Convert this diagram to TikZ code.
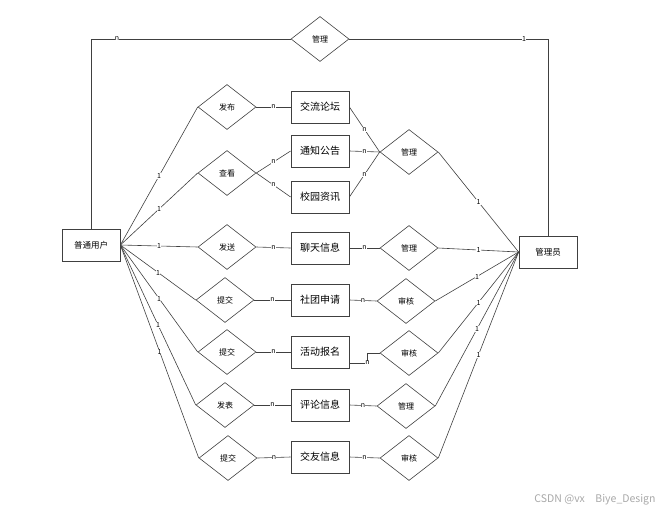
\documentclass[tikz,border=0pt]{standalone}
\usepackage{fontspec}
\newfontfamily\cjk{Noto Sans CJK SC}
\usepackage{tikz}
\usetikzlibrary{
  positioning,
  shapes.geometric,
  calc
}
\definecolor{erLine}{HTML}{404040}
\definecolor{erMark}{HTML}{A8A8A8}

\begin{document}
\begin{tikzpicture}[
  x=1pt, y=-1pt,
  every node/.style={font=\cjk\fontsize{8.5}{10}\selectfont, align=center},
  entitybox/.style={
    rectangle, draw=erLine, line width=0.8pt,
    minimum width=58pt, minimum height=32pt, inner sep=0pt
  },
  itembox/.style={
    entitybox, font=\cjk\fontsize{10}{12}\selectfont
  },
  relbox/.style={
    diamond, draw=erLine, line width=0.6pt,
    minimum width=58pt, minimum height=45pt, inner sep=0pt,
    font=\cjk\fontsize{8}{10}\selectfont
  },
  conn/.style={draw=erLine, line width=0.6pt},
  card/.style={font=\cjk\fontsize{7}{7}\selectfont, fill=white, inner sep=0.3pt}
]
 \useasboundingbox (0,0) rectangle (668,514);

 % Users and admin
 \node[entitybox] (user) at (91,245) {普通用户};
 \node[entitybox] (admin) at (548,252) {管理员};

 % Top relation
 \node[relbox] (topmgr) at (320,39) {管理};

 % Relations of the user (left column)
 \node[relbox] (post) at (227,107) {发布};
 \node[relbox] (view) at (227,173) {查看};
 \node[relbox] (send) at (227,247) {发送};
 \node[relbox] (sub1) at (225,300) {提交};
 \node[relbox] (sub2) at (227,352) {提交};
 \node[relbox] (pub) at (225,405) {发表};
 \node[relbox] (sub3) at (228,458) {提交};

 % Entities (middle column)
 \node[itembox] (forum) at (320,107) {交流论坛};
 \node[itembox] (notice) at (320,151) {通知公告};
 \node[itembox] (news) at (320,197) {校园资讯};
 \node[itembox] (chat) at (320,248) {聊天信息};
 \node[itembox] (club) at (320,300) {社团申请};
 \node[itembox] (act) at (320,352) {活动报名};
 \node[itembox] (cmt) at (320,405) {评论信息};
 \node[itembox] (friend) at (320,457) {交友信息};

 % Relations of the admin (right column)
 \node[relbox] (mgr1) at (409,152) {管理};
 \node[relbox] (mgr2) at (409,248) {管理};
 \node[relbox] (chk1) at (406,301) {审核};
 \node[relbox] (chk2) at (409,353) {审核};
 \node[relbox] (mgr3) at (406,406) {管理};
 \node[relbox] (chk3) at (409,458) {审核};

 % User -- top relation -- admin
 \draw[conn] (user.north) |- node[card, pos=0.565] {n} (topmgr.west);
 \draw[conn] (topmgr.east) -| node[card, pos=0.44] {1} (admin.north);

 % User -- left relations
 \draw[conn] (user.east) -- node[card] {1} (post.west);
 \draw[conn] (user.east) -- node[card] {1} (view.west);
 \draw[conn] (user.east) -- node[card] {1} (send.west);
 \draw[conn] (user.east) -- node[card] {1} (sub1.west);
 \draw[conn] (user.east) -- node[card] {1} (sub2.west);
 \draw[conn] (user.east) -- node[card] {1} (pub.west);
 \draw[conn] (user.east) -- node[card] {1} (sub3.west);

 % Left relations -- entities
 \draw[conn] (post.east) -- node[card] {n} (forum.west);
 \draw[conn] (view.east) -- node[card] {n} (notice.west);
 \draw[conn] (view.east) -- node[card] {n} (news.west);
 \draw[conn] (send.east) -- node[card] {n} (chat.west);
 \draw[conn] (sub1.east) -- node[card] {n} (club.west);
 \draw[conn] (sub2.east) -- node[card] {n} (act.west);
 \draw[conn] (pub.east) -- node[card] {n} (cmt.west);
 \draw[conn] (sub3.east) -- node[card] {n} (friend.west);

 % Entities -- right relations
 \draw[conn] (forum.east) -- node[card] {n} (mgr1.west);
 \draw[conn] (notice.east) -- node[card] {n} (mgr1.west);
 \draw[conn] (news.east) -- node[card] {n} (mgr1.west);
 \draw[conn] (chat.east) -- node[card] {n} (mgr2.west);
 \draw[conn] (club.east) -- node[card] {n} (chk1.west);
 \draw[conn] ([yshift=-11pt]act.east) -- ++(18,0) node[card] {n} |- (chk2.west);
 \draw[conn] (cmt.east) -- node[card] {n} (mgr3.west);
 \draw[conn] (friend.east) -- node[card] {n} (chk3.west);

 % Right relations -- admin
 \draw[conn] (mgr1.east) -- node[card] {1} (admin.west);
 \draw[conn] (mgr2.east) -- node[card] {1} (admin.west);
 \draw[conn] (chk1.east) -- node[card] {1} (admin.west);
 \draw[conn] (chk2.east) -- node[card] {1} (admin.west);
 \draw[conn] (mgr3.east) -- node[card] {1} (admin.west);
 \draw[conn] (chk3.east) -- node[card] {1} (admin.west);

 % Watermark
 \node[text=erMark, font=\cjk\fontsize{10.5}{12}\selectfont] (mark) at (595,500) {CSDN @vx\quad Biye\_Design};
\end{tikzpicture}
\end{document}
